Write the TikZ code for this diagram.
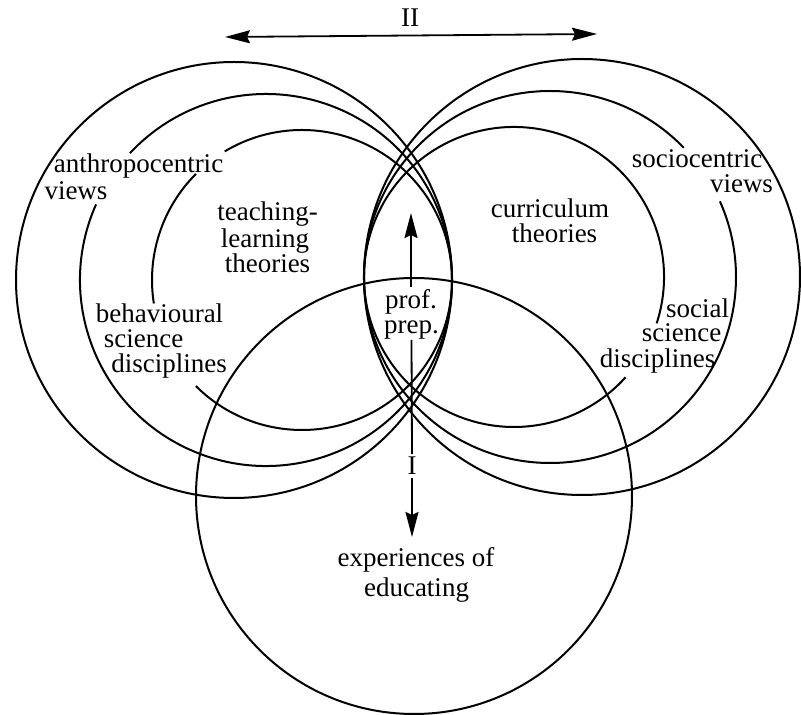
\documentclass[tikz,border=0pt]{standalone}
\usepackage{fontspec}
\setmainfont{Liberation Serif}
\usetikzlibrary{arrows.meta}
\begin{document}
\begin{tikzpicture}[x=1pt,y=1pt,
  >={Stealth[length=25pt,width=13pt,inset=3pt]},
  orbit/.style={line width=2pt},
  shaft/.style={line width=1.8pt},
  lbl/.style={inner sep=0pt, anchor=base, font=\fontsize{27}{27}\selectfont},
  ]
\useasboundingbox (0,0) rectangle (801,715);
% left group (internally tangent at right)
\draw[orbit] (234,435) circle[radius=218pt];
\draw[orbit] (266,435) ++(156:186) arc[start angle=156,end angle=497,radius=186pt];
\draw[orbit] (302,435) ++(225:150) arc[start angle=225,end angle=481,radius=150pt];
\draw[orbit] (302,435) ++(135:150) arc[start angle=135,end angle=189,radius=150pt];
% right group (internally tangent at left)
\draw[orbit] (582,438) circle[radius=218pt];
\draw[orbit] (550,438) ++(44:186) arc[start angle=44,end angle=384,radius=186pt];
\draw[orbit] (514,438) ++(-18:150) arc[start angle=-18,end angle=318,radius=150pt];
% bottom circle
\draw[orbit] (414,219) circle[radius=218pt];

% labels
\node[lbl] (anth) at (138.5,542) {anthropocentric};
\node[lbl] (views1) at (76,515) {views};
\node[lbl] (teach) at (267.5,494) {teaching-};
\node[lbl] (learn) at (265,467) {learning};
\node[lbl] (theo1) at (267.5,442) {theories};
\node[lbl] (behav) at (159.5,392) {behavioural};
\node[lbl] (sci1) at (143.5,367) {science};
\node[lbl] (disc1) at (169,342) {disciplines};
\node[lbl] (curr) at (550,497) {curriculum};
\node[lbl] (theo2) at (554.5,472) {theories};
\node[lbl] (socio) at (697,547) {sociocentric};
\node[lbl] (views2) at (741.5,522) {views};
\node[lbl] (social) at (697.5,397) {social};
\node[lbl] (sci2) at (681.5,373) {science};
\node[lbl] (disc2) at (657.5,347) {disciplines};
\node[lbl] (prof) at (411,406) {prof.};
\node[lbl] (prep) at (411.5,381) {prep.};
\node[lbl] (exp1) at (416,148) {experiences of};
\node[lbl] (exp2) at (416.5,118) {educating};
\node[lbl] (I) at (412,240) {I};
\node[lbl] (II) at (410,688) {II};

% arrows
\coordinate (uptip) at (411,502);
\coordinate (dntip) at (412,178);
\coordinate (Ltip) at (225,678);
\coordinate (Rtip) at (597,681);
\draw[shaft,->] ([yshift=3pt]prof.north) -- (uptip);
\draw[shaft] (prep.south) -- ([yshift=3pt]I.north);
\draw[shaft,->] ([yshift=-3pt]I.south) -- (dntip);
\draw[shaft,<->] (Ltip) -- (Rtip);
\end{tikzpicture}
\end{document}
